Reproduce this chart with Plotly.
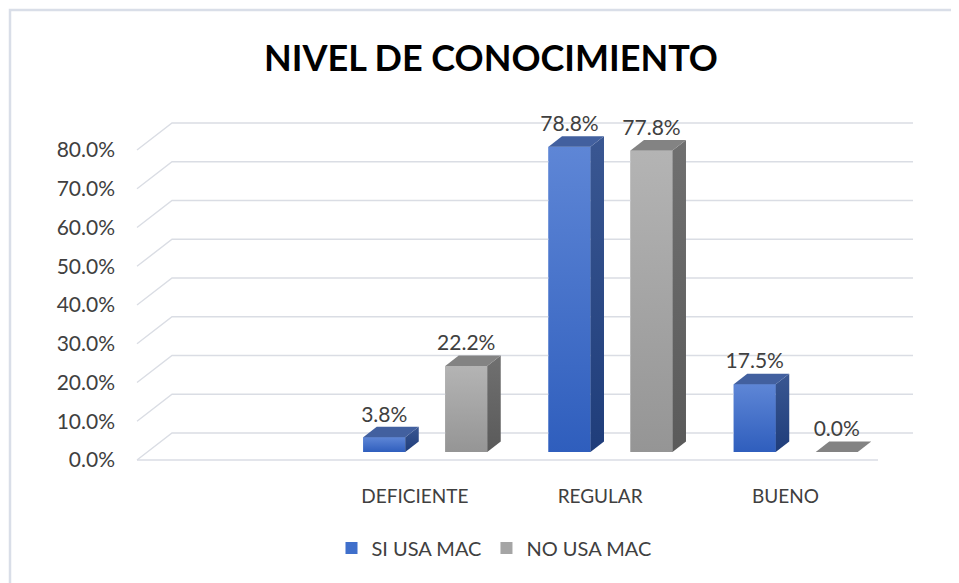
import plotly.graph_objects as go

# ---- data ----
categories = ["", "DEFICIENTE", "REGULAR", "BUENO"]
si_usa_mac = [None, 0.038, 0.788, 0.175]
no_usa_mac = [None, 0.222, 0.778, 0.0]
y_ticks = [0.0, 0.1, 0.2, 0.3, 0.4, 0.5, 0.6, 0.7, 0.8]
series_names = ["SI USA MAC", "NO USA MAC"]

# ---- 3D look parameters (axis units) ----
DX, DY = 0.189, 0.0697        # floor depth vector
TF = 0.296                    # bar front plane (fraction of depth)
BX, BY = 0.0729, 0.0271       # bar depth vector
BW = 0.2267                   # bar width
OFF = 0.2213                  # series offset from category centre

styles = [
    dict(front_top="#5E86D6", front_bot="#2F5EBD", side_top="#3A5792", side_bot="#1F3D7A",
         top="#42609F", legend="#3F6FCB"),
    dict(front_top="#B4B4B4", front_bot="#959595", side_top="#707070", side_bot="#5A5A5A",
         top="#838383", legend="#A5A5A5"),
]

FONT = "Lato"
TXT = "#404040"

fig = go.Figure()

# gridlines (back wall + left wall) and floor front line
gx, gy = [], []
for v in y_ticks:
    gx += [0, DX, len(categories) + DX, None]
    gy += [v, v + DY, v + DY, None]
gx += [0, len(categories), None]
gy += [0, 0, None]
fig.add_trace(go.Scatter(x=gx, y=gy, mode="lines", line=dict(color="#DADDE4", width=1.4),
                         hoverinfo="skip", showlegend=False))

fx, fy = TF * DX, TF * DY
all_vals = [si_usa_mac, no_usa_mac]
lab_x, lab_y, lab_t = [], [], []
for s, vals in enumerate(all_vals):
    st = styles[s]
    off = -OFF if s == 0 else OFF
    xs, ys = [], []
    for i, v in enumerate(vals):
        if v is None:
            continue
        xs.append(i + 0.5 + fx + off)
        ys.append(v)
    # legend / base bars (front faces)
    fig.add_trace(go.Bar(x=xs, y=ys, base=[fy] * len(ys), width=[BW] * len(ys),
                         marker=dict(color=st["legend"], line=dict(width=0)),
                         name=series_names[s], hoverinfo="skip"))
    for cx, v in zip(xs, ys):
        l, r = cx - BW / 2, cx + BW / 2
        b, t = fy, fy + v
        if v > 0:
            fig.add_trace(go.Scatter(x=[l, r, r, l, l], y=[b, b, t, t, b], mode="lines",
                                     line=dict(width=0), fill="toself",
                                     fillgradient=dict(type="vertical",
                                                       colorscale=[[0, st["front_bot"]], [1, st["front_top"]]]),
                                     hoverinfo="skip", showlegend=False))
            fig.add_trace(go.Scatter(x=[r, r + BX, r + BX, r, r], y=[b, b + BY, t + BY, t, b], mode="lines",
                                     line=dict(width=0), fill="toself",
                                     fillgradient=dict(type="vertical",
                                                       colorscale=[[0, st["side_bot"]], [1, st["side_top"]]]),
                                     hoverinfo="skip", showlegend=False))
        fig.add_trace(go.Scatter(x=[l, r, r + BX, l + BX, l], y=[t, t, t + BY, t + BY, t], mode="lines",
                                 line=dict(width=0), fill="toself", fillcolor=st["top"],
                                 hoverinfo="skip", showlegend=False))
        lab_x.append(cx)
        lab_y.append(t + BY)
        lab_t.append(f"{v * 100:.1f}%")

fig.add_trace(go.Scatter(x=lab_x, y=lab_y, mode="text", text=lab_t, textposition="top center",
                         textfont=dict(family=FONT, size=21, color=TXT), cliponaxis=False,
                         hoverinfo="skip", showlegend=False))

# page body has an 8px margin: figure is sized/placed to compensate
PAD = 8
W, H = 959 - PAD, 583 - PAD
L, R, T, B = 120 - PAD, 40, 100 - PAD, 100
PW, PH = W - L - R, H - T - B
fig.update_layout(
    width=W, height=H,
    margin=dict(l=L, r=R, t=T, b=B),
    paper_bgcolor="white", plot_bgcolor="white",
    barmode="overlay",
    font=dict(family=FONT, color=TXT),
    title=dict(text="<b>NIVEL DE CONOCIMIENTO</b>", x=(491 - PAD) / W, xref="container", xanchor="center",
               y=1 - (58 - PAD) / H, yref="container", yanchor="middle",
               font=dict(family=FONT, size=36, color="#000000")),
    xaxis=dict(range=[-0.09177, 4.2213], tickvals=[i + 0.5 for i in range(len(categories))],
               ticktext=categories, showgrid=False, zeroline=False, showline=False, ticks="",
               tickfont=dict(family=FONT, size=19, color=TXT), fixedrange=True),
    yaxis=dict(range=[-0.05935, 0.92903], tickvals=y_ticks, tickformat=".1%", showgrid=False,
               zeroline=False, showline=False, ticks="", ticklabelstandoff=4,
               tickfont=dict(family=FONT, size=21, color=TXT), fixedrange=True),
    legend=dict(orientation="h", x=(494 - PAD - L) / PW, xanchor="center",
                y=(H - B - (548 - PAD)) / PH, yanchor="middle",
                font=dict(family=FONT, size=20, color=TXT), traceorder="normal"),
    shapes=[dict(type="rect", xref="paper", yref="paper",
                 x0=(10 - PAD - L) / PW, x1=(980 - PAD - L) / PW,
                 y0=(H - B - (600 - PAD)) / PH, y1=(H - B - (10 - PAD)) / PH,
                 line=dict(color="#D9DEE8", width=2.5), layer="below")],
)

fig.write_html("out.html")
